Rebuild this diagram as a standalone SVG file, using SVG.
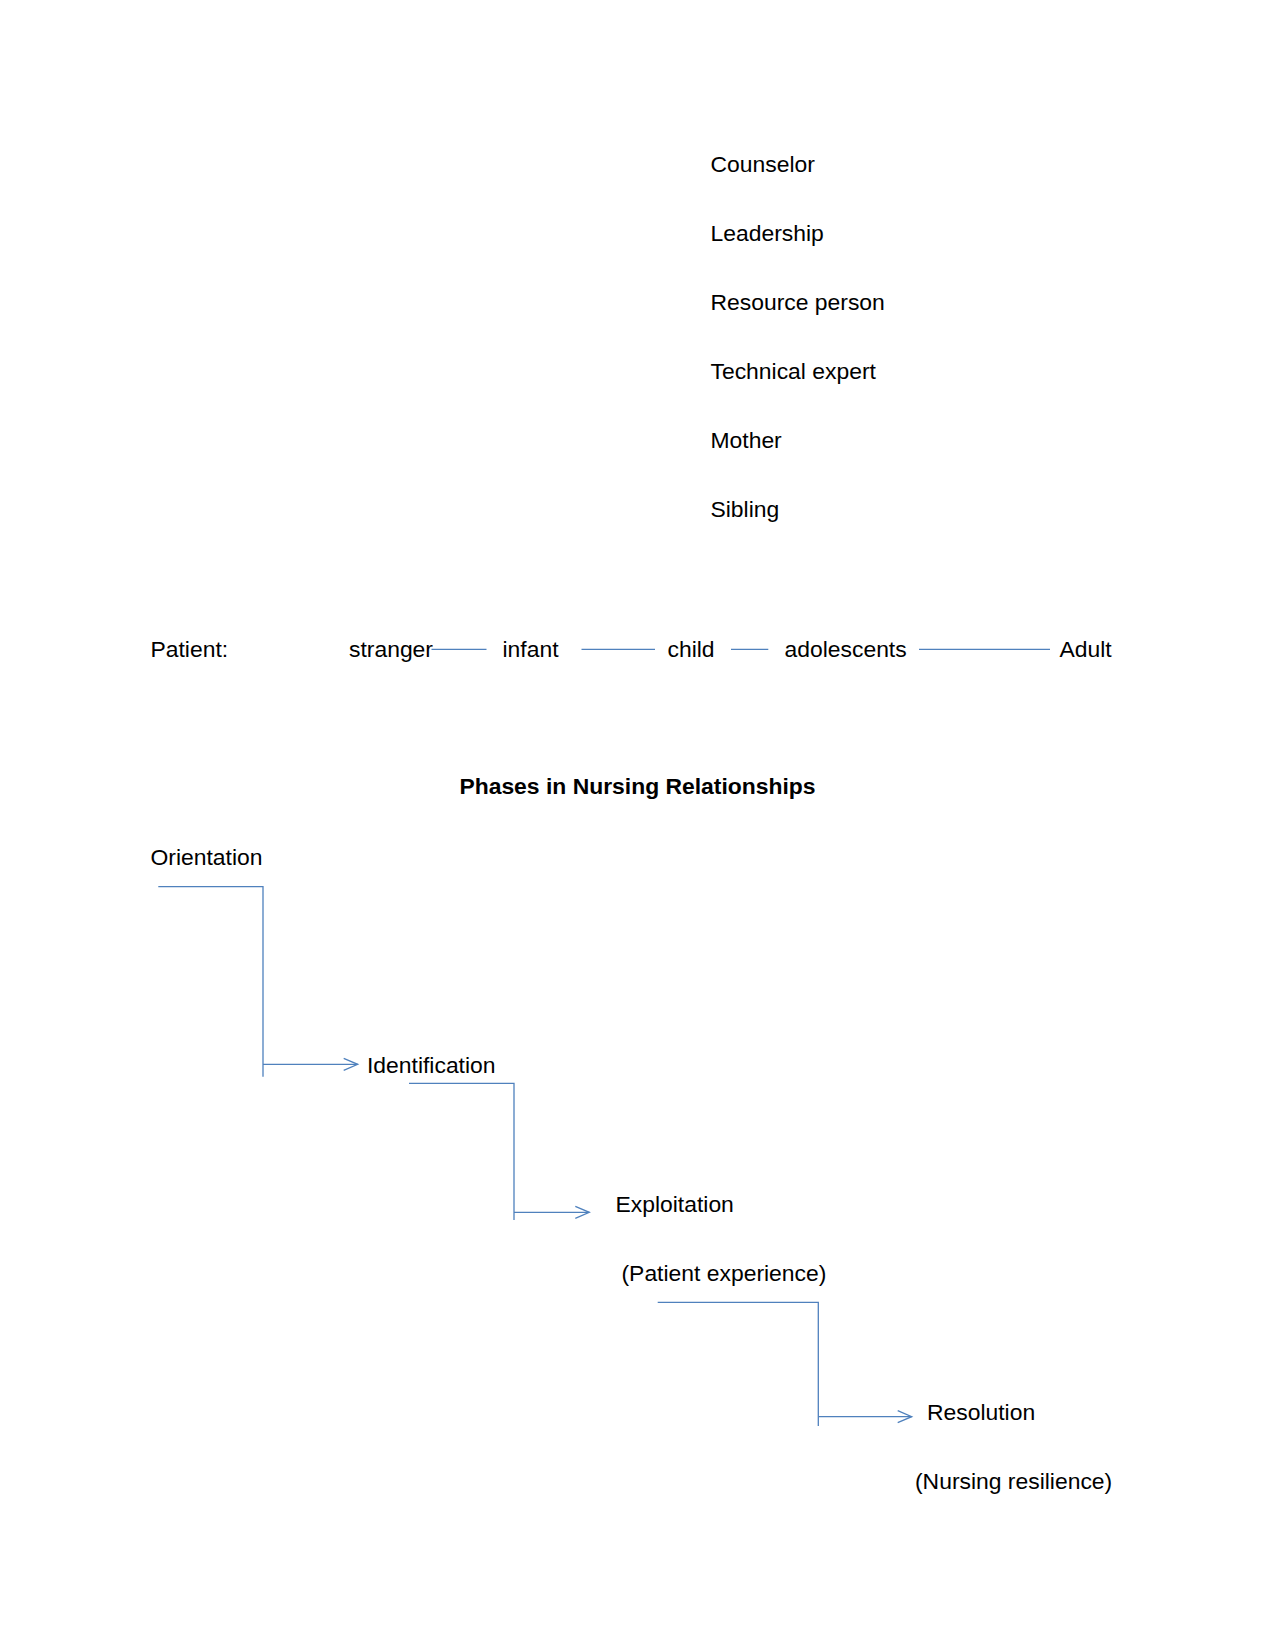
<svg xmlns="http://www.w3.org/2000/svg" width="1275" height="1651" viewBox="0 0 1275 1651">
<style>
text{font-family:"Liberation Sans",Arial,sans-serif;font-size:22.9px;fill:#000}
.b{font-weight:bold}
.c{fill:none;stroke:#4f81bd;stroke-width:1.3}
</style>
<defs>
<marker id="ah" markerUnits="userSpaceOnUse" markerWidth="20" markerHeight="16" refX="15" refY="7" orient="auto">
<path d="M1,1 L15,7 L1,13" fill="none" stroke="#4f81bd" stroke-width="1.3"/>
</marker>
</defs>
<rect width="1275" height="1651" fill="#fff"/>
<g id="roles">
<text x="710.5" y="171.5">Counselor</text>
<text x="710.5" y="240.5">Leadership</text>
<text x="710.5" y="310">Resource person</text>
<text x="710.5" y="379">Technical expert</text>
<text x="710.5" y="448">Mother</text>
<text x="710.5" y="517">Sibling</text>
</g>
<g id="patient-row">
<text x="150.5" y="656.5">Patient:</text>
<text id="stranger" x="349" y="656.5">stranger</text>
<text id="infant" x="502.5" y="656.5">infant</text>
<text id="child" x="667.5" y="656.5">child</text>
<text id="adolescents" x="784.5" y="656.5">adolescents</text>
<text id="adult" x="1059.5" y="656.5">Adult</text>
</g>
<g id="title"><text class="b" x="637.5" y="794.3" text-anchor="middle">Phases in Nursing Relationships</text></g>
<g id="orientation"><text x="150.5" y="865">Orientation</text></g>
<g id="identification"><text x="367" y="1072.5">Identification</text></g>
<g id="exploitation"><text x="615.5" y="1211.5">Exploitation</text><text x="621.5" y="1280.5">(Patient experience)</text></g>
<g id="resolution"><text x="927" y="1420">Resolution</text><text x="915" y="1489">(Nursing resilience)</text></g>
<g id="connectors">
<line class="c" x1="431.5" y1="649.3" x2="486.5" y2="649.3"/>
<line class="c" x1="581.5" y1="649.3" x2="655" y2="649.3"/>
<line class="c" x1="731" y1="649.3" x2="768.3" y2="649.3"/>
<line class="c" x1="919" y1="649.3" x2="1050" y2="649.3"/>
<polyline class="c" points="158.3,886.7 263,886.7 263,1076.7"/>
<line class="c" x1="263" y1="1064.3" x2="357.7" y2="1064.3" marker-end="url(#ah)"/>
<polyline class="c" points="409,1083.3 514,1083.3 514,1220"/>
<line class="c" x1="514" y1="1212.3" x2="589.3" y2="1212.3" marker-end="url(#ah)"/>
<polyline class="c" points="657.7,1302.3 818.3,1302.3 818.3,1426"/>
<line class="c" x1="818.3" y1="1416.7" x2="911.7" y2="1416.7" marker-end="url(#ah)"/>
</g>
</svg>
